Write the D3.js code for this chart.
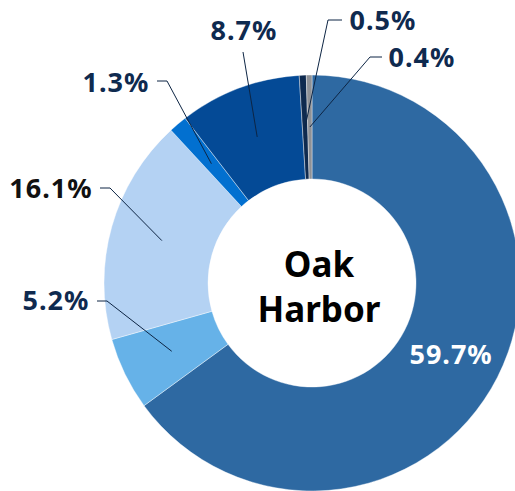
<!DOCTYPE html>
<html><head><meta charset="utf-8">
<script src="https://cdn.jsdelivr.net/npm/d3@7"></script>
<style>html,body{margin:0;padding:0;background:#fff;overflow:hidden}</style>
</head><body>
<svg id="chart" width="515" height="491"></svg>
<script>
const categories = ["A","B","C","D","E","F","G"];
const values = [59.7, 5.2, 16.1, 1.3, 8.7, 0.5, 0.4];
const labels = ["59.7%","5.2%","16.1%","1.3%","8.7%","0.5%","0.4%"];
const centerTitle = ["Oak","Harbor"];

const colors = ["#2E69A2","#66B2E8","#B4D2F3","#0270D0","#044A96","#0E2A4F","#8E9196"];
const labelColors = ["#ffffff","#0F2A4F","#111111","#0F2A4F","#0F2A4F","#0F2A4F","#0F2A4F"];
// label layout: [x, y (baseline), elbow x or null]
const labelLayout = [
  null,
  {x:56, y:310, ax:97, ay:301, ex:107},
  {x:51, y:198, ax:100, ay:188, ex:110},
  {x:116, y:92, ax:157, ay:81, ex:167},
  {x:244, y:40, ax:243, ay:52, ex:null},
  {x:383, y:30, ax:342, ay:20, ex:328},
  {x:422, y:67, ax:382, ay:57, ex:370}
];

const cx = 312, cy = 283, rOuter = 208, rInner = 104;
const svg = d3.select("#chart");
const g = svg.append("g").attr("transform", `translate(${cx},${cy})`);

const pie = d3.pie().sort(null).value(d => d)(values);
const arc = d3.arc().innerRadius(rInner).outerRadius(rOuter);

g.selectAll("path.slice").data(pie).join("path")
  .attr("class","slice")
  .attr("d", arc)
  .attr("fill", (d,i) => colors[i])
  .attr("stroke", "#ffffff").attr("stroke-width", 0.4);

const font = "'Noto Sans', sans-serif";

// leader lines
pie.forEach((d,i) => {
  const L = labelLayout[i];
  if (!L) return;
  const c = arc.centroid(d);
  const pts = [[L.ax - cx, L.ay - cy]];
  if (L.ex !== null) pts.push([L.ex - cx, L.ay - cy]);
  pts.push(c);
  g.append("path")
    .attr("d", d3.line()(pts))
    .attr("fill","none").attr("stroke","#0D2544").attr("stroke-width",1);
});

// labels
pie.forEach((d,i) => {
  const L = labelLayout[i];
  let x, y;
  if (!L) { const c = arc.centroid(d); x = c[0]; y = c[1] + 10; }
  else { x = L.x - cx; y = L.y - cy; }
  g.append("text")
    .attr("x", x).attr("y", y)
    .attr("text-anchor","middle")
    .attr("font-family", font).attr("font-weight", 700)
    .attr("font-size", 27).attr("letter-spacing", 1)
    .attr("fill", labelColors[i])
    .text(labels[i]);
});

// center title
g.append("text").attr("x", 7).attr("y", 277 - cy)
  .attr("text-anchor","middle").attr("font-family", font).attr("font-weight",700)
  .attr("font-size", 35).attr("fill","#000").text(centerTitle[0]);
g.append("text").attr("x", 7).attr("y", 322 - cy)
  .attr("text-anchor","middle").attr("font-family", font).attr("font-weight",700)
  .attr("font-size", 35).attr("fill","#000").text(centerTitle[1]);
</script>
</body></html>
